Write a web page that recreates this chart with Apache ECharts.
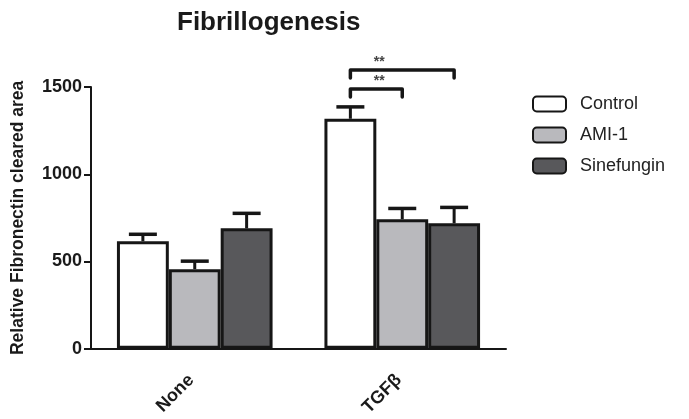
<!DOCTYPE html>
<html>
<head>
<meta charset="utf-8">
<script src="https://cdn.jsdelivr.net/npm/echarts@6/dist/echarts.min.js"></script>
<style>html,body{margin:0;padding:0;background:#fff}#c{width:689px;height:419px}</style>
</head>
<body>
<div id="c"></div>
<script>
var categories = ['None', 'TGF\u03b2'];
var seriesNames = ['Control', 'AMI-1', 'Sinefungin'];
var controlValues = [616, 1318];
var ami1Values = [456, 742];
var sinefunginValues = [690, 719];
var controlErrors = [40, 68];
var ami1Errors = [46, 62];
var sinefunginErrors = [86, 91];
var yTicks = [0, 500, 1000, 1500];
// significance brackets: category, from series, to series, level, label
var brackets = [
  {cat: 1, from: 0, to: 1, level: 1489, label: '**'},
  {cat: 1, from: 0, to: 2, level: 1597, label: '**'}
];

var FONT = 'Liberation Sans, Arial, Helvetica, sans-serif';
var GAP = 0.25;
var colors = ['#ffffff', '#b9b9bd', '#58585b'];
var values = [controlValues, ami1Values, sinefunginValues];
var errors = [controlErrors, ami1Errors, sinefunginErrors];

function barCenter(api, cat, s) {
  var band = api.size([1, 0])[0];
  var w = band * (1 - GAP) / 3;
  var c = api.coord([cat, 0])[0];
  return c + (s - 1) * w;
}

var series = [];
seriesNames.forEach(function (name, s) {
  series.push({
    name: name,
    type: 'bar',
    data: values[s],
    barGap: '0%',
    barCategoryGap: (GAP * 100) + '%',
    itemStyle: {color: colors[s], borderColor: '#161616', borderWidth: 3},
    z: 2
  });
});
seriesNames.forEach(function (name, s) {
  series.push({
    type: 'custom',
    clip: false,
    z: 3,
    silent: true,
    data: values[s].map(function (v, i) { return [i, v, errors[s][i]]; }),
    renderItem: function (params, api) {
      var cat = api.value(0), v = api.value(1), e = api.value(2);
      var x = barCenter(api, cat, s);
      var y0 = api.coord([cat, v])[1];
      var y1 = api.coord([cat, v + e])[1];
      var cap = 14;
      return {
        type: 'group',
        children: [
          {type: 'line', shape: {x1: x, y1: y0, x2: x, y2: y1}, style: {stroke: '#161616', lineWidth: 3}},
          {type: 'line', shape: {x1: x - cap, y1: y1, x2: x + cap, y2: y1}, style: {stroke: '#161616', lineWidth: 3.5}}
        ]
      };
    }
  });
});
series.push({
  type: 'custom',
  clip: false,
  z: 4,
  silent: true,
  data: brackets.map(function (b) { return [b.cat, b.from, b.to, b.level]; }),
  renderItem: function (params, api) {
    var b = brackets[params.dataIndex];
    var xa = barCenter(api, b.cat, b.from);
    var xb = barCenter(api, b.cat, b.to);
    var xs = (barCenter(api, b.cat, b.from) + barCenter(api, b.cat, b.from + 1)) / 2;
    var y = api.coord([b.cat, b.level])[1];
    var drop = 8;
    return {
      type: 'group',
      children: [
        {type: 'polyline', shape: {points: [[xa, y + drop], [xa, y], [xb, y], [xb, y + drop]]},
         style: {stroke: '#161616', lineWidth: 3.5, fill: null, lineJoin: 'round', lineCap: 'round'}},
        {type: 'text', x: xs + 3, y: y - 1,
         style: {text: b.label, fill: '#444', font: 'bold 14px ' + FONT, align: 'center', verticalAlign: 'bottom'}}
      ]
    };
  }
});

var chart = echarts.init(document.getElementById('c'), null, {renderer: 'canvas'});
chart.setOption({
  animation: false,
  backgroundColor: '#ffffff',
  title: {
    text: 'Fibrillogenesis',
    left: 172, top: 5,
    textStyle: {fontFamily: FONT, fontWeight: 'bold', fontSize: 26, color: '#1a1a1a'}
  },
  legend: {
    orient: 'vertical',
    left: 527, top: 90,
    itemWidth: 33, itemHeight: 15, itemGap: 13,
    data: seriesNames,
    textStyle: {fontFamily: FONT, fontSize: 18, color: '#222', padding: [0, 0, 0, 9]}
  },
  grid: {left: 91, right: 183, top: 87, bottom: 69, containLabel: false},
  xAxis: {
    type: 'category',
    data: categories,
    axisLine: {lineStyle: {color: '#161616', width: 2}},
    axisTick: {alignWithLabel: true, length: 6, lineStyle: {color: '#161616', width: 2}},
    axisLabel: {rotate: 45, margin: 25, padding: [0, 5, 0, 0], fontFamily: FONT, fontWeight: 'bold', fontSize: 18, color: '#1a1a1a'}
  },
  yAxis: {
    type: 'value',
    min: 0, max: 1500, interval: 500,
    name: 'Relative Fibronectin cleared area',
    nameLocation: 'middle', nameGap: 64,
    nameTextStyle: {fontFamily: FONT, fontWeight: 'bold', fontSize: 17.5, color: '#1a1a1a'},
    axisLine: {show: true, lineStyle: {color: '#161616', width: 2}},
    axisTick: {show: true, length: 7, lineStyle: {color: '#161616', width: 2}},
    splitLine: {show: false},
    axisLabel: {
      margin: 9, fontFamily: FONT, fontWeight: 'bold', fontSize: 18, color: '#1a1a1a',
      formatter: function (v) { return yTicks.indexOf(v) >= 0 ? String(v) : ''; }
    }
  },
  series: series
});
</script>
</body>
</html>
